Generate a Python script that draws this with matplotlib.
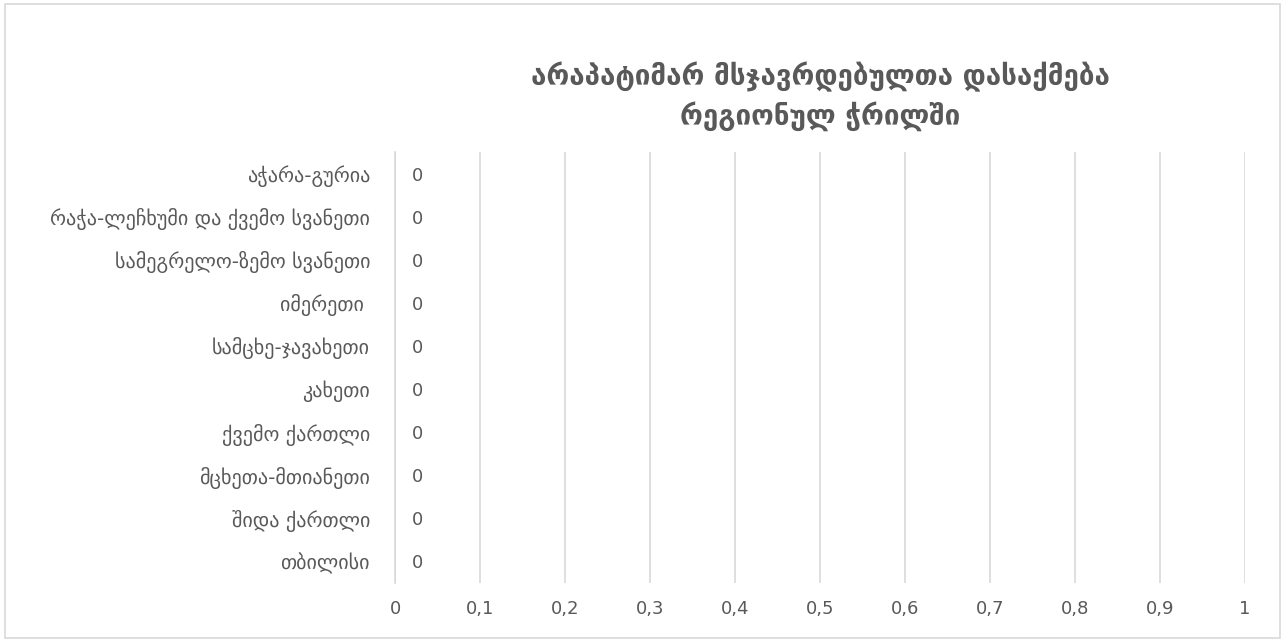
import matplotlib.pyplot as plt
from matplotlib.patches import Rectangle

regions = ["თბილისი", "შიდა ქართლი", "მცხეთა-მთიანეთი", "ქვემო ქართლი", "კახეთი",
           "სამცხე-ჯავახეთი", "იმერეთი ", "სამეგრელო-ზემო სვანეთი",
           "რაჭა-ლეჩხუმი და ქვემო სვანეთი", "აჭარა-გურია"]
values = [0, 0, 0, 0, 0, 0, 0, 0, 0, 0]
xticks = [0, 0.1, 0.2, 0.3, 0.4, 0.5, 0.6, 0.7, 0.8, 0.9, 1]
xtick_labels = ["0", "0,1", "0,2", "0,3", "0,4", "0,5", "0,6", "0,7", "0,8", "0,9", "1"]
title = "არაპატიმარ მსჯავრდებულთა დასაქმება\nრეგიონულ ჭრილში"

plt.rcParams['font.family'] = ['DejaVu Sans']
grey = "#595959"

fig = plt.figure(figsize=(12.85, 6.41), dpi=100)
ax = fig.add_axes([0.3074, 0.0905, 0.6615, 0.6724])

ax.barh(range(len(regions)), values, height=0.6, color="#4472c4")
# data labels, centred on each bar row
for i, v in enumerate(values):
    ax.annotate(str(v), (v, i), xytext=(22, -2), textcoords='offset pixels',
                ha='center', va='center', color=grey, fontsize=13)

ax.set_xlim(0, 1)
ax.set_ylim(-0.5, len(regions) - 0.5)
ax.set_yticks(range(len(regions)))
ax.set_yticklabels(regions, color=grey, fontsize=14.5)
ax.set_xticks(xticks)
ax.set_xticklabels(xtick_labels, color=grey, fontsize=13)
ax.tick_params(axis='both', length=0)
ax.tick_params(axis='y', pad=18)
ax.tick_params(axis='x', pad=12)
ax.grid(axis='x', color="#d9d9d9", linewidth=1.2)
ax.set_axisbelow(True)
for s in ["top", "right", "bottom"]:
    ax.spines[s].set_visible(False)
ax.spines["left"].set_color("#d9d9d9")
ax.spines["left"].set_linewidth(1.2)

ax.set_title(title, fontsize=20, fontweight='bold', color=grey, pad=20, linespacing=1.35)

fig.patches.append(Rectangle((0.004, 0.004), 0.992, 0.99, transform=fig.transFigure,
                             fill=False, edgecolor="#d9d9d9", linewidth=1.2))

plt.savefig("out.png", dpi=100)
